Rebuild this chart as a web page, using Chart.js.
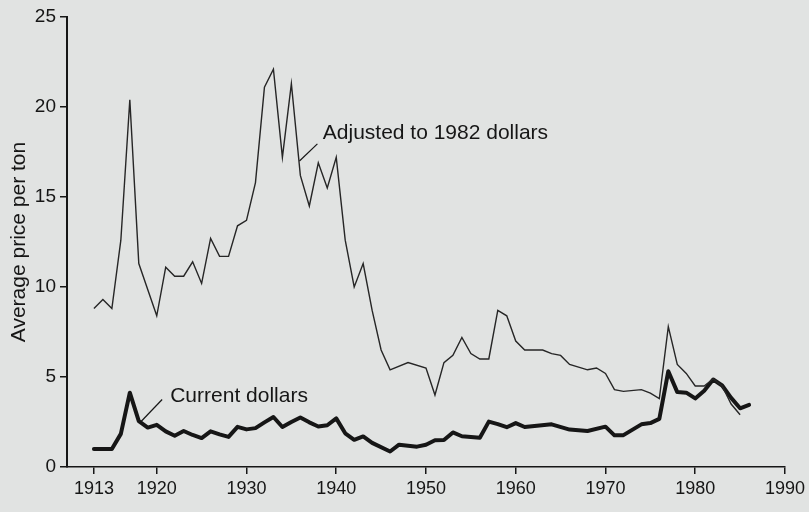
<!DOCTYPE html>
<html>
<head>
<meta charset="utf-8">
<script src="https://cdn.jsdelivr.net/npm/chart.js@4"></script>
<style>
    body { margin: 0; background: #e1e3e2; }
    canvas { display: block; }
</style>
</head>
<body>
<canvas id="price-chart" width="809" height="512"></canvas>
<script>
// price per ton, 1982 dollars
const adjustedYears = [1913, 1914, 1915, 1916, 1917, 1918, 1920, 1921, 1922, 1923, 1924, 1925, 1926, 1927, 1928, 1929,
    1930, 1931, 1932, 1933, 1934, 1935, 1936, 1937, 1938, 1939, 1940, 1941, 1942, 1943, 1944, 1945, 1946, 1948, 1950,
    1951, 1952, 1953, 1954, 1955, 1956, 1957, 1958, 1959, 1960, 1961, 1963, 1964, 1965, 1966, 1968, 1969, 1970, 1971,
    1972, 1974, 1975, 1976, 1977, 1978, 1979, 1980, 1981, 1982, 1983, 1984, 1985];
const adjustedValues = [8.8, 9.3, 8.8, 12.6, 20.4, 11.3, 8.4, 11.1, 10.6, 10.6, 11.4, 10.2, 12.7, 11.7, 11.7, 13.4,
    13.7, 15.8, 21.1, 22.1, 17.2, 21.3, 16.2, 14.5, 16.9, 15.5, 17.2, 12.6, 10.0, 11.3, 8.7, 6.5, 5.4, 5.8, 5.5,
    4.0, 5.8, 6.2, 7.2, 6.3, 6.0, 6.0, 8.7, 8.4, 7.0, 6.5, 6.5, 6.3, 6.2, 5.7, 5.4, 5.5, 5.2, 4.3,
    4.2, 4.3, 4.1, 3.8, 7.8, 5.7, 5.2, 4.5, 4.5, 4.9, 4.5, 3.5, 2.9];

// price per ton, current dollars
const currentYears = [1913, 1914, 1915, 1916, 1917, 1918, 1919, 1920, 1921, 1922, 1923, 1924, 1925, 1926, 1927, 1928,
    1929, 1930, 1931, 1932, 1933, 1934, 1935, 1936, 1937, 1938, 1939, 1940, 1941, 1942, 1943, 1944, 1946, 1947, 1949,
    1950, 1951, 1952, 1953, 1954, 1956, 1957, 1958, 1959, 1960, 1961, 1964, 1966, 1968, 1970, 1971, 1972, 1974, 1975,
    1976, 1977, 1978, 1979, 1980, 1981, 1982, 1983, 1984, 1985, 1986];
const currentValues = [1.0, 1.0, 1.0, 1.84, 4.13, 2.55, 2.19, 2.34, 1.98, 1.74, 2.0, 1.78, 1.61, 1.98, 1.81, 1.67,
    2.23, 2.09, 2.16, 2.48, 2.78, 2.22, 2.5, 2.75, 2.48, 2.25, 2.32, 2.7, 1.87, 1.51, 1.7, 1.34, 0.86, 1.24, 1.13,
    1.24, 1.49, 1.5, 1.92, 1.71, 1.63, 2.52, 2.38, 2.21, 2.44, 2.22, 2.37, 2.08, 2.0, 2.24, 1.76, 1.77, 2.37, 2.44,
    2.67, 5.32, 4.16, 4.13, 3.81, 4.24, 4.86, 4.53, 3.84, 3.26, 3.45];

const xTicks = [1913, 1920, 1930, 1940, 1950, 1960, 1970, 1980, 1990];
const yTicks = [0, 5, 10, 15, 20, 25];

const ink = '#161616';
const font = '"Liberation Sans", Arial, sans-serif';

// series labels with a short leader line, placed in data units
const seriesLabels = [
    { text: 'Adjusted to 1982 dollars', at: [1938.5, 18.2], from: [1935.9, 17.0], to: [1937.9, 17.95] },
    { text: 'Current dollars', at: [1921.5, 3.63], from: [1918.2, 2.5], to: [1920.6, 3.75] }
];

function toPoints(xs, ys) {
    return xs.map((x, i) => ({ x: x, y: ys[i] }));
}

const labelPlugin = {
    id: 'seriesLabels',
    afterDatasetsDraw(chart) {
        const ctx = chart.ctx;
        const xs = chart.scales.x;
        const ys = chart.scales.y;
        ctx.save();
        ctx.strokeStyle = ink;
        ctx.fillStyle = ink;
        ctx.lineWidth = 1.2;
        ctx.font = '21px ' + font;
        ctx.textBaseline = 'alphabetic';
        seriesLabels.forEach(l => {
            ctx.beginPath();
            ctx.moveTo(xs.getPixelForValue(l.from[0]), ys.getPixelForValue(l.from[1]));
            ctx.lineTo(xs.getPixelForValue(l.to[0]), ys.getPixelForValue(l.to[1]));
            ctx.stroke();
            ctx.fillText(l.text, xs.getPixelForValue(l.at[0]), ys.getPixelForValue(l.at[1]));
        });
        ctx.restore();
    }
};

new Chart(document.getElementById('price-chart'), {
    type: 'line',
    data: {
        datasets: [
            {
                label: 'Adjusted to 1982 dollars',
                data: toPoints(adjustedYears, adjustedValues),
                borderColor: '#262626',
                borderWidth: 1.4,
                pointRadius: 0,
                tension: 0,
                borderJoinStyle: 'miter'
            },
            {
                label: 'Current dollars',
                data: toPoints(currentYears, currentValues),
                borderColor: ink,
                borderWidth: 4,
                pointRadius: 0,
                tension: 0,
                borderJoinStyle: 'round',
                borderCapStyle: 'round'
            }
        ]
    },
    options: {
        responsive: false,
        animation: false,
        devicePixelRatio: 1,
        layout: { padding: { left: 0, right: 23, top: 17, bottom: 0 } },
        plugins: {
            legend: { display: false },
            tooltip: { enabled: false }
        },
        scales: {
            x: {
                type: 'linear',
                min: 1910,
                max: 1990,
                afterBuildTicks: scale => { scale.ticks = xTicks.map(v => ({ value: v })); },
                afterFit: scale => { scale.height = 45; },
                grid: { drawOnChartArea: false, drawTicks: true, tickLength: 7, color: ink, lineWidth: 1.5 },
                border: { display: true, color: ink, width: 1.6 },
                ticks: {
                    color: ink,
                    padding: 4,
                    maxRotation: 0,
                    autoSkip: false,
                    font: { family: font, size: 18 },
                    callback: v => String(v)
                }
            },
            y: {
                min: 0,
                max: 25,
                afterBuildTicks: scale => { scale.ticks = yTicks.map(v => ({ value: v })); },
                afterFit: scale => { scale.width = 67; },
                grid: { drawOnChartArea: false, drawTicks: true, tickLength: 7, color: ink, lineWidth: 1.5 },
                border: { display: true, color: ink, width: 2 },
                ticks: {
                    color: ink,
                    padding: 4,
                    font: { family: font, size: 19 }
                },
                title: {
                    display: true,
                    text: 'Average price per ton',
                    color: ink,
                    padding: { top: 7, bottom: 0 },
                    font: { family: font, size: 21 }
                }
            }
        }
    },
    plugins: [labelPlugin]
});
</script>
</body>
</html>
